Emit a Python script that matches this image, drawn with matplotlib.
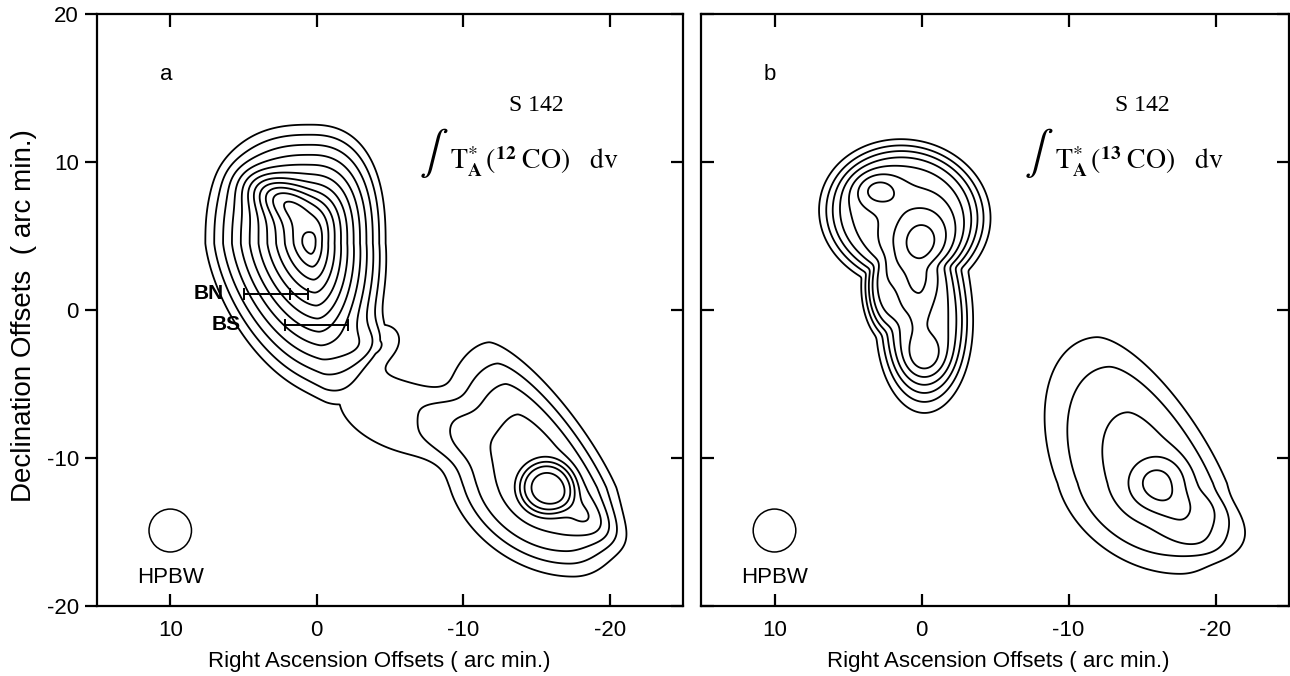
import numpy as np
import matplotlib
matplotlib.use("Agg")
import matplotlib.pyplot as plt
from matplotlib.patches import Circle
import matplotlib.markers as mmarkers

plt.rcParams["font.family"] = ["Liberation Sans", "DejaVu Sans"]
plt.rcParams["mathtext.fontset"] = "stix"
plt.rcParams["axes.unicode_minus"] = False

# ---------------- data (offsets in arc min) ----------------
ra_ticks = [10, 0, -10, -20]
dec_ticks = [-20, -10, 0, 10, 20]
ra_limits = (15, -25)
dec_limits = (-20, 20)

# Cloud bodies:
# amp, RA0, Dec0, east/west/north/south extents, shape exponents up/down,
# shear up/down, profile power (0 = cone)
co12_blob = [
    (12.8, 0.46, 4.5, 7.75, 5.6, 8.7, 11.2, 2.5, 1.7, 0.0, 0.1, 0),
    (4.4, -15.7, -12.0, 6.0, 4.3, 8.9, 5.45, 1.6, 2.0, 0.4, 0.3, 2),
]
co13_blob = [
    (3.2, -16.0, -11.7, 6.5, 4.6, 9.5, 5.9, 1.8, 2.0, 0.41, 0.26, 2),
]
# Elliptical components: amp, RA0, Dec0, major, minor, angle (deg), profile power
co12_add = [
    (3.0, 2.6, 7.6, 2.5, 1.3, 25, 1),       # north-east ridge
    (2.2, -3.8, -2.5, 2.2, 1.5, -30, 1),    # southern spur of north cloud
    (1.85, -5.8, -7.2, 5.0, 2.6, 20, 2),    # bridge
    (1.3, -18.8, -14.2, 2.6, 1.2, 35, 1),   # south-west ridge
    (3.9, -15.7, -12.0, 1.9, 1.8, 0, 2),    # south peak
]
co13_union = [
    (5.4, 1.15, 6.5, 5.35, 4.6, 9, 3),      # upper body
    (5.4, -0.2, -0.8, 2.9, 5.4, 0, 2),      # lower body
    (5.4, 1.8, 1.5, 2.0, 3.5, 0, 2),        # eastern flank
]
co13_add = [
    (3.1, 0.0, 4.5, 2.4, 2.9, 0, 1),        # central peak
    (2.0, 3.0, 8.1, 1.6, 1.2, 0, 1),        # north-east peak
    (1.5, -0.2, -3.2, 1.5, 1.5, 0, 1),      # southern knot
    (0.9, 0.2, 0.8, 0.9, 2.5, 0, 1),        # ridge
    (1.0, -19.5, -14.6, 3.5, 2.0, 20, 2),   # south-west lobe
    (2.0, -16.0, -11.7, 2.0, 1.85, 0, 1.5), # south peak
]
co12_levels = list(range(1, 13))
co13_levels = list(range(1, 9))

bn_ra = [5.0, 1.8, 0.6]
bn_dec = 1.1
bs_ra = [2.2, -2.1]
bs_dec = -1.0
hpbw_ra, hpbw_dec, hpbw_diam = 10.0, -14.9, 2.9


def blob(X, Y, amp, x0, y0, ae, aw, bn, bs, nu, nd, shu, shd, p):
    dy = Y - y0
    dx = X - x0 - np.where(dy >= 0, shu, shd) * dy
    a = np.where(dx >= 0, ae, aw)
    b = np.where(dy >= 0, bn, bs)
    n = np.where(dy >= 0, nu, nd)
    r = (np.abs(dx / a) ** n + np.abs(dy / b) ** n) ** (1.0 / n)
    if p == 0:
        return amp * np.clip(1 - r, 0, None)
    return amp * np.exp(-r ** (2 * p))


def comp(X, Y, amp, x0, y0, a, b, ang, p):
    t = np.deg2rad(ang)
    dx, dy = X - x0, Y - y0
    u = dx * np.cos(t) + dy * np.sin(t)
    v = -dx * np.sin(t) + dy * np.cos(t)
    q = (u / a) ** 2 + (v / b) ** 2
    return amp * np.exp(-q ** p)


def soft_union(fields, k=8):
    return sum(f ** k for f in fields) ** (1.0 / k)


x = np.linspace(-26, 16, 841)
y = np.linspace(-21, 21, 841)
X, Y = np.meshgrid(x, y)

Z12 = (sum(blob(X, Y, *c) for c in co12_blob)
       + sum(comp(X, Y, *c) for c in co12_add))
Z13 = (soft_union([comp(X, Y, *c) for c in co13_union])
       + sum(blob(X, Y, *c) for c in co13_blob)
       + sum(comp(X, Y, *c) for c in co13_add))

fig = plt.figure(figsize=(12.9, 6.76), dpi=100)
axL = fig.add_axes([97 / 1290, 1 - 606 / 676, 586 / 1290, 592 / 676])
axR = fig.add_axes([701 / 1290, 1 - 606 / 676, 588 / 1290, 592 / 676])

tick_fs = 16
for ax, Z, lev, letter, iso in [(axL, Z12, co12_levels, "a", "12"),
                                (axR, Z13, co13_levels, "b", "13")]:
    ax.contour(X, Y, Z, levels=lev, colors="black", linewidths=1.3)
    ax.set_xlim(*ra_limits)
    ax.set_ylim(*dec_limits)
    ax.set_xticks(ra_ticks)
    ax.set_yticks(dec_ticks)
    for s in ax.spines.values():
        s.set_linewidth(1.6)
    ax.tick_params(axis="x", which="both", direction="in", top=True, bottom=True,
                   length=9, width=1.6, labelsize=tick_fs, pad=10)
    ax.set_xlabel("Right Ascension Offsets ( arc min.)", fontsize=16)
    ax.text(10.3, 15.9, letter, fontsize=16, ha="center", va="center")
    ax.text(-15.0, 13.85, "S 142", fontsize=17, ha="center", va="center",
            family="Liberation Serif")
    ax.text(-8.0, 10.6, r"$\int$", fontsize=31, ha="center", va="center")
    ax.text(-9.1, 10.0,
            r"$\mathrm{T}^{*}_{\mathbf{A}}\,(^{\mathbf{%s}}\;\mathrm{CO})\ \ \ \mathrm{dv}$" % iso,
            fontsize=20, ha="left", va="center")
    ax.add_patch(Circle((hpbw_ra, hpbw_dec), hpbw_diam / 2, fill=False, lw=1.1, color="black"))
    ax.text(hpbw_ra, -18.1, "HPBW", fontsize=16, ha="center", va="center")

axL.xaxis.set_label_coords(0.482, -0.076)
axR.xaxis.set_label_coords(0.505, -0.076)
axL.tick_params(axis="y", which="both", direction="out", left=True, length=9, width=1.6,
                labelsize=tick_fs, pad=4)
axL.tick_params(axis="y", which="both", right=True)
axL.set_ylabel("Declination Offsets  ( arc min.)", fontsize=20)
axL.yaxis.set_label_coords(-0.102, 0.49)
axR.tick_params(axis="y", which="both", direction="in", left=True, right=True, length=9,
                width=1.6, labelleft=False)
for t in axL.yaxis.get_major_ticks():
    t.tick2line.set_marker(mmarkers.TICKLEFT)

# BN / BS position bars
axL.plot([bn_ra[0], bn_ra[2]], [bn_dec, bn_dec], color="black", lw=1.4)
axL.plot(bn_ra, [bn_dec] * 3, ls="none", marker="|", ms=8, mew=1.4, color="black")
axL.plot(bs_ra, [bs_dec, bs_dec], color="black", lw=1.4)
axL.plot(bs_ra, [bs_dec] * 2, ls="none", marker="|", ms=8, mew=1.4, color="black")
axL.text(7.35, bn_dec, "BN", fontsize=15, fontweight="bold", ha="center", va="center")
axL.text(6.2, bs_dec, "BS", fontsize=15, fontweight="bold", ha="center", va="center")

fig.savefig("out.png", dpi=100)
